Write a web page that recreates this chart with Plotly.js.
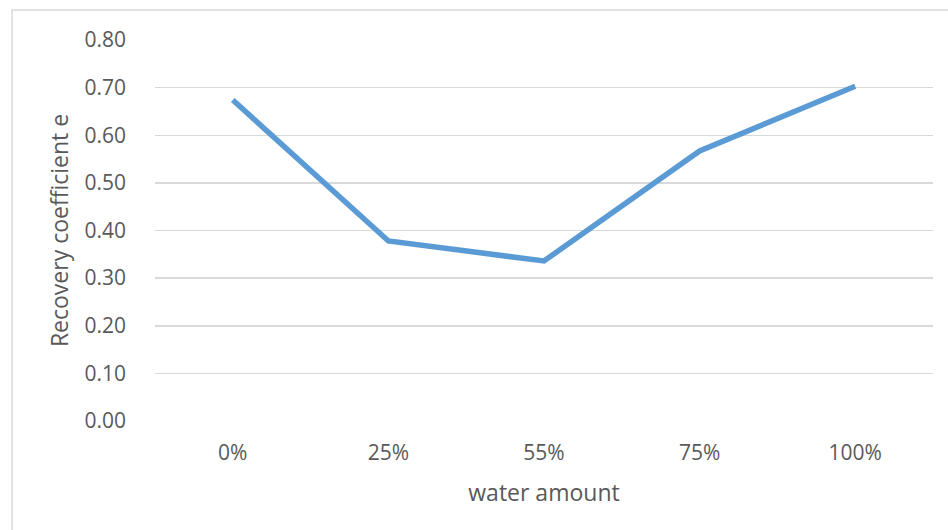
<!DOCTYPE html>
<html>
<head>
<meta charset="utf-8">
<script src="https://cdn.plot.ly/plotly-3.0.1.min.js"></script>
<style>html,body{margin:0;padding:0;background:#fff;}#chart{width:948px;height:530px;}</style>
</head>
<body>
<div id="chart"></div>
<script>
const categories = ["0%", "25%", "55%", "75%", "100%"];
const recovery = [0.674, 0.378, 0.336, 0.567, 0.703];
const yTicks = [0, 0.1, 0.2, 0.3, 0.4, 0.5, 0.6, 0.7, 0.8];
const yTickLabels = ["0.00", "0.10", "0.20", "0.30", "0.40", "0.50", "0.60", "0.70", "0.80"];

const tickFont = {family: "Open Sans, sans-serif", size: 21, color: "#595959"};
const titleFont = {family: "Open Sans, sans-serif", size: 23, color: "#595959"};

Plotly.newPlot("chart", [{
  x: categories,
  y: recovery,
  type: "scatter",
  mode: "lines",
  line: {color: "#5B9BD5", width: 5.5, shape: "linear"},
  hoverinfo: "x+y"
}], {
  width: 948, height: 530,
  margin: {l: 155, r: 15, t: 40, b: 109},
  paper_bgcolor: "#ffffff",
  plot_bgcolor: "#ffffff",
  showlegend: false,
  font: tickFont,
  xaxis: {
    type: "category",
    range: [-0.5, 4.5],
    showgrid: false,
    zeroline: false,
    showline: false,
    ticks: "",
    ticklabelstandoff: 17,
    tickfont: tickFont,
    title: {text: "water amount", font: titleFont, standoff: 19}
  },
  yaxis: {
    range: [0, 0.8],
    tickvals: yTicks,
    ticktext: yTickLabels,
    showgrid: true,
    gridcolor: "#D9D9D9",
    gridwidth: 1.5,
    zeroline: false,
    showline: false,
    ticks: "",
    ticklabelstandoff: 28,
    tickfont: tickFont,
    title: {text: "Recovery coefficient e", font: titleFont, standoff: 9}
  },
  shapes: [{
    type: "rect", xref: "paper", yref: "paper",
    x0: -0.1837, x1: 1.03, y0: -0.5, y1: 1.079,
    line: {color: "#D9D9D9", width: 1.5}, fillcolor: "rgba(0,0,0,0)", layer: "below"
  }]
}, {displayModeBar: false, staticPlot: true});
</script>
</body>
</html>
